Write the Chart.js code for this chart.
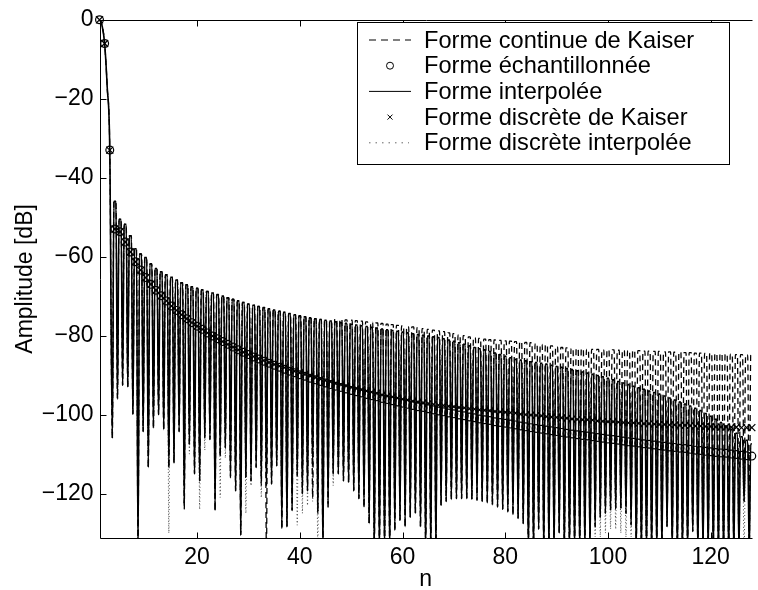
<!DOCTYPE html>
<html>
<head>
<meta charset="utf-8">
<script src="https://cdn.jsdelivr.net/npm/chart.js@4.4.1/dist/chart.umd.min.js"></script>
<style>
  html, body { margin: 0; padding: 0; background: #fff; }
  #wrap { width: 758px; height: 590px; }
</style>
</head>
<body>
<div id="wrap"><canvas id="grafico" width="758" height="590"></canvas></div>
<script>
// graduations
const ticksN = [20, 40, 60, 80, 100, 120];
const ticksDb = [0, -20, -40, -60, -80, -100, -120];

// noms des courbes (légende)
const noms = ["Forme continue de Kaiser", "Forme échantillonnée", "Forme interpolée",
              "Forme discrète de Kaiser", "Forme discrète interpolée"];

// sommets des lobes, trait plein (n = 1..128)
const solidTop = [0, -6, -33, -46, -50.5, -51.8, -54.7, -58, -59.3, -60.2,
  -61.8, -63, -63.8, -64.6, -65.2, -65.9, -66.6, -67.1, -67.6, -68,
  -68.4, -68.8, -69.2, -69.6, -70, -70.4, -70.8, -71.2, -71.6, -72,
  -72.3, -72.6, -72.9, -73.2, -73.5, -73.8, -74.1, -74.4, -74.7, -75,
  -75.2, -75.5, -75.7, -75.9, -76.1, -76.3, -76.5, -76.7, -76.9, -77.1,
  -77.3, -77.5, -77.7, -77.9, -78.1, -78.3, -78.5, -78.7, -78.9, -79.1,
  -79.3, -79.5, -79.7, -79.9, -80.1, -80.3, -80.5, -80.8, -81.1, -81.4,
  -81.8, -82.2, -82.6, -83, -83.3, -83.6, -84, -84.4, -84.8, -85.2,
  -85.6, -86, -86.2, -86.4, -86.6, -86.8, -87, -87.2, -87.5, -87.8,
  -88, -88.3, -88.6, -88.9, -89.2, -89.5, -89.8, -90.1, -90.4, -90.8,
  -91.2, -91.6, -92, -92.4, -92.8, -93.2, -93.6, -94, -94.4, -94.8,
  -95.3, -95.8, -96.3, -96.8, -97.3, -97.8, -98.4, -99, -99.7, -100.4,
  -101.2, -102, -102.9, -103.8, -104.7, -105.6, -106.5, -107.4];

// creux, trait plein (valeur à n + 0.5, n = 1..127)
const solidMid = [-1.5, -17, -106, -96, -92.6, -93, -99.9, -135, -104.3, -113.4,
  -103.4, -100, -103.8, -113.4, -112.2, -104.3, -122.6, -107.6, -115, -116.8,
  -105.9, -106.3, -124.3, -110.5, -108.4, -115.5, -119.3, -130.5, -115.9, -116.8,
  -113.4, -116.3, -118, -117.6, -113, -128.8, -128.4, -124.3, -115.5, -120,
  -119.3, -113, -124.6, -135, -122.6, -115, -115, -116.8, -117.2, -119.3,
  -121.3, -123.4, -127.6, -135, -135, -135, -135, -129.3, -126.8, -128.4,
  -126, -125, -128.4, -135, -135, -135, -123, -122, -121.5, -121.3,
  -121.3, -121.3, -121.5, -121.7, -122, -122.4, -122.9, -123.4, -124, -124.6,
  -125.3, -126.3, -127.6, -135, -135, -129, -135, -135, -135, -130,
  -135, -135, -135, -135, -135, -135, -128.4, -126, -125, -124.2,
  -123.8, -123.8, -125, -128, -135, -135, -135, -135, -135, -135,
  -128.4, -135, -135, -135, -135, -129.6, -135, -135, -135, -135,
  -135, -135, -135, -135, -135, -122, -135];

// sommets, forme continue (tirets)
const dashedTop = [0, -6, -33, -46, -50.5, -51.8, -54.7, -58, -59.3, -60.2,
  -61.8, -63, -63.8, -64.6, -65.2, -65.9, -66.6, -67.1, -67.6, -68,
  -68.4, -68.8, -69.2, -69.6, -70, -70.4, -70.8, -71.2, -71.6, -72,
  -72.3, -72.6, -72.9, -73.2, -73.5, -73.8, -74.1, -74.4, -74.7, -75,
  -75.2, -75.5, -75.7, -75.9, -76.1, -76.3, -75.8, -75.9, -76, -76.1,
  -76.2, -76.3, -76.5, -76.6, -76.8, -76.9, -77.1, -77.2, -77.4, -77.5,
  -77.7, -77.8, -78, -78.2, -78.4, -78.6, -78.8, -79, -79.3, -79.5,
  -79.8, -80, -80.3, -80.5, -80.7, -80.9, -81, -81.1, -81.2, -81.3,
  -81.4, -81.5, -81.6, -81.7, -81.8, -82, -82.2, -82.4, -82.6, -82.8,
  -83, -83.1, -83.2, -83.3, -83.4, -83.5, -83.5, -83.5, -83.6, -83.6,
  -83.6, -83.7, -83.7, -83.8, -83.8, -83.8, -83.9, -83.9, -84, -84,
  -84.1, -84.1, -84.2, -84.2, -84.3, -84.3, -84.4, -84.4, -84.5, -84.5,
  -84.6, -84.6, -84.7, -84.7, -84.8, -84.8, -84.9, -84.9];

const dashedMid = [-1.5, -17, -106, -96, -92.6, -93, -99.9, -135, -104.3, -113.4,
  -103.4, -100, -103.8, -113.4, -112.2, -104.3, -124, -107.6, -115, -116.8,
  -105.9, -106.3, -124.3, -110.5, -108.4, -116, -119.3, -130.5, -115.9, -116.8,
  -113.4, -118, -135, -117.6, -113, -128.8, -128.4, -124.3, -115.5, -120,
  -119.3, -121, -125, -135, -124, -115, -115, -116.8, -117.2, -119.3,
  -121.3, -123.4, -127.6, -135, -135, -135, -135, -129.3, -126.8, -128.4,
  -126, -125, -128.4, -135, -135, -135, -123, -122, -121.5, -121.3,
  -121.3, -121.3, -121.5, -121.7, -122, -122.4, -122.9, -123.4, -124, -124.6,
  -125.3, -126.3, -127.6, -135, -135, -129, -135, -135, -135, -130,
  -135, -135, -135, -135, -135, -135, -128.4, -126, -125, -124.2,
  -123.8, -123.8, -125, -128, -135, -135, -135, -135, -135, -135,
  -128.4, -135, -135, -135, -135, -129.6, -135, -135, -135, -135,
  -135, -135, -135, -135, -135, -122, -135];

// creux, forme discrète interpolée (pointillés) ; sommets confondus avec le trait plein
const dottedMid = [-1.5, -17, -106, -96, -92.6, -93, -99.9, -135, -104.3, -113.4,
  -103.4, -100, -103.8, -130, -112.2, -104.3, -122.6, -110, -115, -124,
  -109, -106.3, -124.3, -121, -111, -115.5, -119.3, -130.5, -125, -118,
  -113.4, -121, -118, -117.6, -113, -128.8, -128.4, -124.3, -128, -125,
  -123, -122, -135, -135, -122.6, -118, -115, -116.8, -117.2, -119.3,
  -121.3, -123.4, -127.6, -135, -135, -135, -135, -129.3, -126.8, -128.4,
  -126, -125, -128.4, -135, -135, -135, -123, -122, -121.5, -121.3,
  -121.3, -121.3, -121.5, -121.7, -122, -122.4, -122.9, -123.4, -124, -124.6,
  -125.3, -126.3, -127.6, -135, -135, -129, -135, -135, -135, -130,
  -135, -135, -135, -135, -135, -135, -131, -131, -130, -129,
  -129, -130, -131, -131, -135, -135, -135, -135, -135, -135,
  -128.4, -135, -135, -135, -135, -129.6, -135, -135, -135, -135,
  -135, -135, -135, -135, -135, -135, -135];

// cercles : forme échantillonnée (n = 1..128)
const echantillons = [0, -6, -33, -53, -53.7, -56.3, -58.8, -61.3, -63.4, -65.3,
  -67, -68.5, -69.9, -71.2, -72.5, -73.6, -74.7, -75.7, -76.7, -77.6,
  -78.4, -79.3, -80.1, -80.8, -81.5, -82.2, -82.9, -83.6, -84.2, -84.8,
  -85.4, -85.9, -86.5, -87, -87.5, -88, -88.5, -89, -89.4, -89.9,
  -90.3, -90.8, -91.2, -91.6, -92, -92.4, -92.8, -93.1, -93.5, -93.9,
  -94.2, -94.5, -94.9, -95.2, -95.5, -95.9, -96.2, -96.5, -96.8, -97.1,
  -97.4, -97.7, -98, -98.2, -98.5, -98.8, -99.1, -99.3, -99.6, -99.8,
  -100.1, -100.3, -100.6, -100.8, -101.1, -101.3, -101.5, -101.8, -102, -102.2,
  -102.4, -102.6, -102.9, -103.1, -103.3, -103.5, -103.7, -103.9, -104.1, -104.3,
  -104.5, -104.7, -104.9, -105.1, -105.3, -105.4, -105.6, -105.8, -106, -106.2,
  -106.3, -106.5, -106.7, -106.9, -107, -107.2, -107.4, -107.5, -107.7, -107.9,
  -108, -108.2, -108.3, -108.5, -108.6, -108.8, -109, -109.1, -109.3, -109.4,
  -109.6, -109.7, -109.8, -110, -110.1, -110.3, -110.4, -110.5];

// croix : forme discrète de Kaiser (n = 1..128)
const discrets = [0, -6, -33, -53, -53.7, -56.3, -58.8, -61.3, -63.4, -65.3,
  -67, -68.5, -69.9, -71.2, -72.5, -73.6, -74.7, -75.7, -76.7, -77.6,
  -78.4, -79.3, -80.1, -80.8, -81.5, -82.2, -82.9, -83.6, -84.2, -84.8,
  -85.3, -85.8, -86.3, -86.8, -87.3, -87.7, -88.1, -88.6, -89, -89.4,
  -89.8, -90.2, -90.6, -91, -91.4, -91.7, -92.1, -92.4, -92.7, -93.1,
  -93.4, -93.7, -94, -94.3, -94.6, -95, -95.3, -95.5, -95.8, -96.1,
  -96.3, -96.6, -96.8, -97, -97.2, -97.4, -97.6, -97.7, -97.9, -98,
  -98.2, -98.3, -98.5, -98.6, -98.8, -98.9, -99, -99.2, -99.3, -99.4,
  -99.5, -99.6, -99.9, -100, -100.1, -100.2, -100.3, -100.5, -100.6, -100.7,
  -100.8, -100.9, -101.1, -101.2, -101.3, -101.3, -101.4, -101.6, -101.7, -101.8,
  -101.8, -101.9, -102, -102.1, -102.1, -102.2, -102.3, -102.3, -102.4, -102.5,
  -102.5, -102.6, -102.6, -102.7, -102.7, -102.8, -102.9, -102.9, -103, -103,
  -103.1, -103.1, -103.1, -103.2, -103.2, -103.3, -103.3, -103.3];

const police = { family: "'Liberation Sans', Arial, sans-serif", size: 23 };

// un lobe = sommet arrondi autour de n, creux à n + 0.5
function lobes(tops, mids) {
    const pts = [];
    tops.forEach((v, i) => {
        const n = i + 1;
        if (n <= 3) {
            pts.push({ x: n, y: v });
        } else {
            pts.push({ x: n - 0.2, y: v });
            pts.push({ x: n + 0.2, y: v });
        }
        if (i < mids.length) pts.push({ x: n + 0.5, y: mids[i] });
    });
    return pts;
}
const marques = arr => arr.map((v, i) => ({ x: i + 1, y: v }));

const ligne = {
    pointRadius: 0, borderWidth: 1.6, borderColor: "#000", fill: false,
    cubicInterpolationMode: "monotone", clip: 0
};

// axes (graduations vers l'intérieur) et légende
const cadre = {
    id: "cadre",
    afterDatasetsDraw(chart) {
        const { ctx, chartArea: a, scales: { x, y } } = chart;
        const top = Math.round(a.top) + 0.5, bot = Math.round(a.bottom) + 0.5;
        const left = Math.round(a.left) + 0.5, right = Math.round(a.right) + 0.5;
        ctx.save();
        ctx.strokeStyle = "#000";
        ctx.lineWidth = 1;
        ctx.beginPath();
        ctx.moveTo(left, top); ctx.lineTo(right, top);
        ctx.moveTo(left, top); ctx.lineTo(left, bot); ctx.lineTo(right, bot);
        ticksN.forEach(v => {
            const px = Math.round(x.getPixelForValue(v)) + 0.5;
            ctx.moveTo(px, bot); ctx.lineTo(px, bot - 6);
            ctx.moveTo(px, top); ctx.lineTo(px, top + 6);
        });
        ticksDb.forEach(v => {
            const py = Math.round(y.getPixelForValue(v)) + 0.5;
            ctx.moveTo(left, py); ctx.lineTo(left + 6, py);
        });
        ctx.stroke();

        // légende
        ctx.fillStyle = "#fff";
        ctx.fillRect(357, 22, 372, 142);
        ctx.strokeRect(357.5, 22.5, 372, 142);
        ctx.font = `23.6px ${police.family}`;
        ctx.textBaseline = "middle";
        noms.forEach((nom, i) => {
            const yy = 40 + i * 25.7;
            ctx.save();
            ctx.strokeStyle = "#000";
            ctx.beginPath();
            if (i === 0) { ctx.setLineDash([7, 5]); ctx.moveTo(369, yy); ctx.lineTo(411, yy); }
            if (i === 1) { ctx.arc(390, yy, 3.5, 0, Math.PI * 2); }
            if (i === 2) { ctx.moveTo(369, yy); ctx.lineTo(411, yy); }
            if (i === 3) { ctx.moveTo(387.5, yy - 2.5); ctx.lineTo(392.5, yy + 2.5); ctx.moveTo(392.5, yy - 2.5); ctx.lineTo(387.5, yy + 2.5); }
            if (i === 4) { ctx.strokeStyle = "#666"; ctx.setLineDash([1.5, 5]); ctx.moveTo(369, yy); ctx.lineTo(409, yy); }
            ctx.stroke();
            ctx.restore();
            ctx.fillStyle = "#000";
            ctx.fillText(nom, 424, yy + 1);
        });
        ctx.restore();
    }
};

new Chart(document.getElementById("grafico"), {
    type: "line",
    data: {
        datasets: [
            Object.assign({ label: noms[0], data: lobes(dashedTop, dashedMid), order: 4 }, ligne, { borderDash: [6, 4], borderWidth: 1.3 }),
            { label: noms[1], data: marques(echantillons), showLine: false, pointStyle: "circle",
              pointRadius: 3.9, pointBorderWidth: 1.2, pointBorderColor: "#000",
              pointBackgroundColor: "rgba(0,0,0,0)", clip: false, order: 2 },
            Object.assign({ label: noms[2], data: lobes(solidTop, solidMid), order: 3 }, ligne),
            { label: noms[3], data: marques(discrets), showLine: false, pointStyle: "crossRot",
              pointRadius: 5, pointBorderWidth: 1.2, pointBorderColor: "#000", clip: false, order: 1 },
            Object.assign({ label: noms[4], data: lobes(solidTop, dottedMid), order: 5 }, ligne, { borderDash: [1, 2.5], borderWidth: 1, borderColor: "#444" })
        ]
    },
    options: {
        responsive: false,
        animation: false,
        devicePixelRatio: 1,
        layout: { padding: { top: 13, right: -3, left: 0, bottom: 0 } },
        plugins: { legend: { display: false }, tooltip: { enabled: false } },
        scales: {
            x: {
                type: "linear", min: 1, max: 128,
                grid: { display: false, drawTicks: false }, border: { display: false },
                afterBuildTicks: s => { s.ticks = ticksN.map(v => ({ value: v })); },
                afterFit: s => { s.height = 52; },
                ticks: { font: police, color: "#000", padding: 6, maxRotation: 0, autoSkip: false },
                title: { display: true, text: "n", font: police, color: "#000", padding: { top: 0, bottom: -3 } }
            },
            y: {
                type: "linear", min: -131.25, max: 0,
                grid: { display: false, drawTicks: false }, border: { display: false },
                afterBuildTicks: s => { s.ticks = ticksDb.map(v => ({ value: v })); },
                afterFit: s => { s.width = 99.5; },
                ticks: { font: police, color: "#000", padding: 6, autoSkip: false,
                         callback: v => v < 0 ? "\u2212" + Math.abs(v) : String(v) },
                title: { display: true, text: "Amplitude [dB]", font: police, color: "#000", padding: { top: 12, bottom: 0 } }
            }
        }
    },
    plugins: [cadre]
});
</script>
</body>
</html>
